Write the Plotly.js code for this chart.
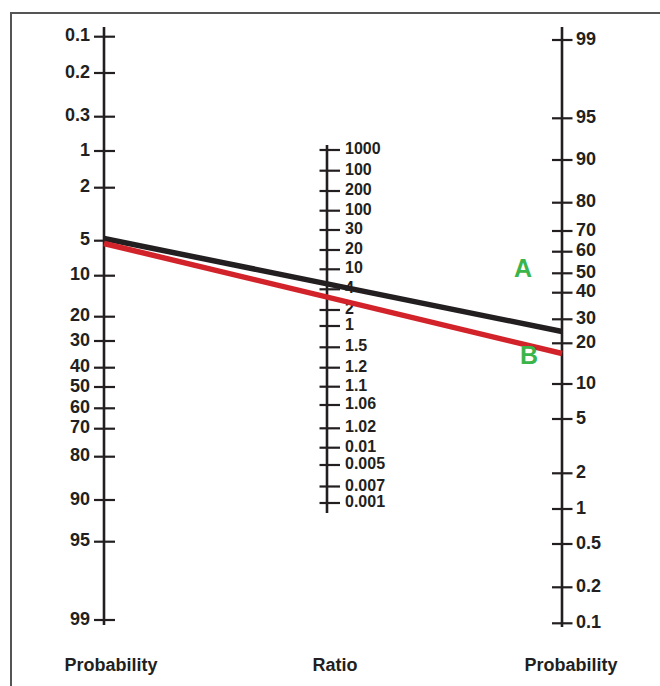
<!DOCTYPE html>
<html><head><meta charset="utf-8">
<script src="https://cdn.plot.ly/plotly-3.0.1.min.js"></script>
<style>html,body{margin:0;padding:0;background:#fff}</style>
</head><body><div id="chart" style="width:660px;height:686px"></div>
<script>
// ---- data: tick labels and their positions on each scale (scale units, top = 0) ----
const leftLabels = ['0.1','0.2','0.3','1','2','5','10','20','30','40','50','60','70','80','90','95','99'];
const leftPos    = [36.7,73,116.7,151,187.7,240.7,275.7,316.7,341,367.7,387,408.3,428.7,456.7,500,541.7,620];
const ratioLabels = ['1000','100','200','100','30','20','10','4','2','1','1.5','1.2','1.1','1.06','1.02','0.01','0.005','0.007','0.001'];
const ratioPos    = [150,170.7,191,210.7,230,250,269.3,289.3,310,326,347.3,367.7,386.7,405,428.3,447.7,465,486.5,503];
const rightLabels = ['99','95','90','80','70','60','50','40','30','20','10','5','2','1','0.5','0.2','0.1'];
const rightPos    = [40,118.3,160,202.7,231,251.7,273.3,292.7,319.3,343.3,384,419,473.3,509,544,587.3,623.3];
const axisTitles  = ['Probability','Ratio','Probability'];
const lineNames   = ['A','B'];
const lineLeft    = [238.5, 243.5];   // position on left probability scale
const lineRight   = [331.5, 353.5];   // position on right probability scale

// ---- layout constants ----
const INK = '#231f20';
const FONT = '"Liberation Sans", Arial, Helvetica, sans-serif';
const cols = {
  left:  {x:104, top:27,  bottom:625, tl:-10, tr:11, labX:90,  pos:'middle left', size:18},
  ratio: {x:327, top:145, bottom:513, tl:-7.5, tr:13, labX:345, pos:'middle right', size:16},
  right: {x:562, top:27,  bottom:627, tl:-10, tr:10.5, labX:576, pos:'middle right', size:18}
};
const lineColors = [INK, '#d2232a'];
const nameColor = '#3bb54a';
const namePos = [[523,271],[529,358]];
const titleX = [111,335,571], titleY = 666;

const traces = [];
// frame
traces.push({x:[660,11,11], y:[13,13,686], mode:'lines', line:{color:'#555',width:2}, hoverinfo:'skip', showlegend:false});

function addScale(c, pos, labels){
  traces.push({x:[c.x,c.x], y:[c.top,c.bottom], mode:'lines', line:{color:INK,width:2.6}, hoverinfo:'skip', showlegend:false});
  const tx=[], ty=[];
  pos.forEach(p=>{ tx.push(c.x+c.tl, c.x+c.tr, null); ty.push(p,p,null); });
  traces.push({x:tx, y:ty, mode:'lines', line:{color:INK,width:2.2}, hoverinfo:'skip', showlegend:false});
  traces.push({x:pos.map(()=>c.labX), y:pos, text:labels, mode:'text', textposition:c.pos,
    textfont:{family:FONT,size:c.size,color:INK,weight:'bold'}, hoverinfo:'skip', showlegend:false});
}
addScale(cols.left, leftPos, leftLabels);
addScale(cols.ratio, ratioPos, ratioLabels);
addScale(cols.right, rightPos, rightLabels);

// bottom titles
traces.push({x:titleX, y:titleX.map(()=>titleY), text:axisTitles, mode:'text', textposition:'middle center',
  textfont:{family:FONT,size:18,color:INK,weight:'bold'}, hoverinfo:'skip', showlegend:false});

// result lines
lineNames.forEach((n,i)=>{
  traces.push({x:[cols.left.x, cols.right.x], y:[lineLeft[i], lineRight[i]], mode:'lines',
    line:{color:lineColors[i], width:5.5}, name:n, hoverinfo:'skip', showlegend:false});
});
traces.push({x:namePos.map(p=>p[0]), y:namePos.map(p=>p[1]), text:lineNames, mode:'text', textposition:'middle center',
  textfont:{family:FONT,size:25,color:nameColor,weight:'bold'}, hoverinfo:'skip', showlegend:false});

const layout = {
  width:660, height:686, autosize:false,
  margin:{l:0,r:0,t:0,b:0,pad:0},
  paper_bgcolor:'#fff', plot_bgcolor:'#fff',
  xaxis:{range:[0,660], visible:false, fixedrange:true},
  yaxis:{range:[686,0], visible:false, fixedrange:true},
  showlegend:false
};
Plotly.newPlot('chart', traces, layout, {displayModeBar:false, staticPlot:true});
</script></body></html>
